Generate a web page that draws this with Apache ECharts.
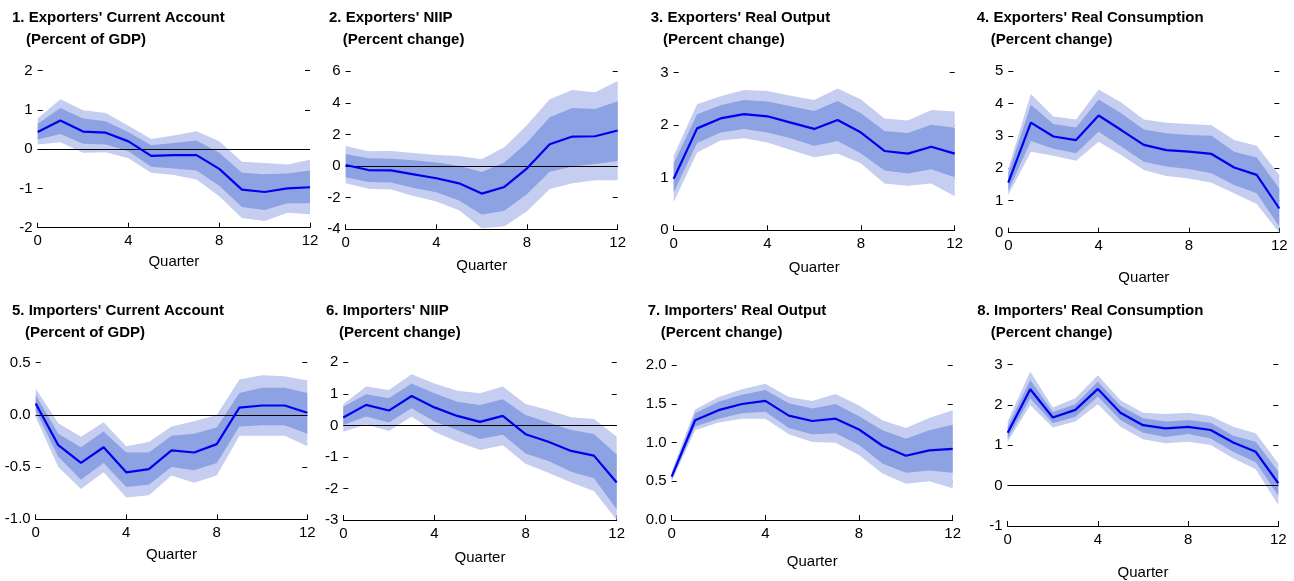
<!DOCTYPE html>
<html>
<head>
<meta charset="utf-8">
<script src="https://cdn.jsdelivr.net/npm/echarts@6/dist/echarts.min.js"></script>
<style>
  html, body { margin: 0; padding: 0; background: #fff; }
  #main { width: 1294px; height: 581px; }
</style>
</head>
<body>
<div id="main"></div>
<script>
// quarters after the shock
var quarters = ['0', '1', '2', '3', '4', '5', '6', '7', '8', '9', '10', '11', '12'];

// 1. Exporters' current account
var exCaMid   = [0.44, 0.73, 0.45, 0.42, 0.2, -0.17, -0.15, -0.15, -0.5, -1.03, -1.09, -1.0, -0.97];
var exCaInHi  = [0.65, 1.05, 0.78, 0.71, 0.43, 0.1, 0.16, 0.22, -0.09, -0.6, -0.64, -0.62, -0.54];
var exCaInLo  = [0.25, 0.39, 0.14, 0.12, -0.05, -0.45, -0.49, -0.54, -0.93, -1.47, -1.55, -1.38, -1.38];
var exCaOutHi = [0.78, 1.27, 0.99, 0.92, 0.6, 0.26, 0.35, 0.46, 0.2, -0.32, -0.35, -0.39, -0.27];
var exCaOutLo = [0.12, 0.18, -0.09, -0.08, -0.23, -0.6, -0.66, -0.77, -1.2, -1.75, -1.83, -1.62, -1.66];

// 2. Exporters' NIIP
var exNiMid   = [0.07, -0.25, -0.27, -0.52, -0.77, -1.09, -1.74, -1.32, -0.14, 1.38, 1.87, 1.89, 2.25];
var exNiInHi  = [0.77, 0.49, 0.47, 0.37, 0.22, 0.03, -0.37, 0.22, 1.5, 3.09, 3.68, 3.62, 4.1];
var exNiInLo  = [-0.7, -1.0, -1.04, -1.38, -1.65, -2.18, -3.07, -2.82, -1.76, -0.35, -0.03, 0.14, 0.33];
var exNiOutHi = [1.27, 0.94, 0.96, 0.83, 0.7, 0.64, 0.43, 1.19, 2.6, 4.23, 4.82, 4.67, 5.39];
var exNiOutLo = [-1.09, -1.43, -1.48, -1.9, -2.24, -2.79, -3.93, -3.8, -2.85, -1.45, -1.09, -0.9, -0.9];

// 3. Exporters' real output
var exOuMid   = [0.98, 1.94, 2.13, 2.21, 2.17, 2.05, 1.93, 2.1, 1.86, 1.51, 1.46, 1.59, 1.46];
var exOuInHi  = [1.27, 2.21, 2.38, 2.48, 2.45, 2.36, 2.27, 2.46, 2.23, 1.89, 1.85, 2.01, 1.95];
var exOuInLo  = [0.72, 1.66, 1.86, 1.93, 1.86, 1.75, 1.61, 1.7, 1.46, 1.14, 1.08, 1.16, 1.01];
var exOuOutHi = [1.42, 2.4, 2.55, 2.67, 2.65, 2.56, 2.48, 2.7, 2.49, 2.13, 2.09, 2.29, 2.26];
var exOuOutLo = [0.54, 1.48, 1.71, 1.75, 1.67, 1.53, 1.39, 1.46, 1.27, 0.89, 0.85, 0.89, 0.65];

// 4. Exporters' real consumption
var exCoMid   = [1.55, 3.41, 2.98, 2.87, 3.63, 3.18, 2.72, 2.56, 2.51, 2.44, 2.02, 1.79, 0.75];
var exCoInHi  = [1.84, 3.96, 3.37, 3.26, 4.13, 3.7, 3.2, 3.08, 3.03, 3.0, 2.51, 2.33, 1.37];
var exCoInLo  = [1.3, 2.84, 2.6, 2.46, 3.13, 2.67, 2.2, 2.05, 1.97, 1.84, 1.48, 1.22, 0.19];
var exCoOutHi = [1.99, 4.3, 3.6, 3.51, 4.44, 4.03, 3.51, 3.41, 3.37, 3.33, 2.87, 2.69, 1.79];
var exCoOutLo = [1.17, 2.51, 2.38, 2.23, 2.82, 2.41, 1.94, 1.76, 1.68, 1.55, 1.22, 0.89, 0.0];

// 5. Importers' current account
var imCaMid   = [0.11, -0.29, -0.46, -0.31, -0.55, -0.52, -0.34, -0.36, -0.28, 0.07, 0.09, 0.09, 0.02];
var imCaInHi  = [0.19, -0.18, -0.31, -0.16, -0.36, -0.36, -0.2, -0.18, -0.12, 0.21, 0.26, 0.26, 0.21];
var imCaInLo  = [0.04, -0.4, -0.62, -0.46, -0.69, -0.67, -0.5, -0.53, -0.46, -0.11, -0.1, -0.1, -0.18];
var imCaOutHi = [0.25, -0.08, -0.21, -0.07, -0.3, -0.26, -0.11, -0.06, 0.0, 0.34, 0.38, 0.37, 0.33];
var imCaOutLo = [-0.02, -0.5, -0.71, -0.55, -0.79, -0.77, -0.58, -0.65, -0.58, -0.2, -0.2, -0.2, -0.3];

// 6. Importers' NIIP
var imNiMid   = [0.25, 0.65, 0.47, 0.93, 0.57, 0.3, 0.11, 0.3, -0.28, -0.52, -0.81, -0.96, -1.81];
var imNiInHi  = [0.59, 0.99, 0.86, 1.33, 1.02, 0.75, 0.65, 0.83, 0.33, 0.09, -0.15, -0.27, -0.92];
var imNiInLo  = [0.01, 0.28, 0.09, 0.54, 0.12, -0.15, -0.43, -0.3, -0.89, -1.13, -1.47, -1.68, -2.66];
var imNiOutHi = [0.67, 1.23, 1.12, 1.62, 1.33, 1.1, 1.02, 1.23, 0.68, 0.49, 0.26, 0.2, -0.36];
var imNiOutLo = [-0.2, 0.03, -0.18, 0.28, -0.2, -0.52, -0.78, -0.63, -1.22, -1.5, -1.81, -2.08, -3.0];

// 7. Importers' real output
var imOuMid   = [0.56, 1.29, 1.42, 1.5, 1.54, 1.35, 1.28, 1.31, 1.17, 0.96, 0.83, 0.9, 0.92];
var imOuInHi  = [0.59, 1.38, 1.53, 1.62, 1.68, 1.51, 1.44, 1.5, 1.34, 1.16, 1.05, 1.16, 1.23];
var imOuInLo  = [0.52, 1.21, 1.31, 1.38, 1.4, 1.19, 1.11, 1.12, 0.97, 0.73, 0.61, 0.64, 0.61];
var imOuOutHi = [0.63, 1.43, 1.59, 1.69, 1.76, 1.59, 1.54, 1.63, 1.48, 1.29, 1.19, 1.32, 1.42];
var imOuOutLo = [0.5, 1.16, 1.26, 1.31, 1.31, 1.11, 1.01, 1.0, 0.84, 0.6, 0.47, 0.5, 0.41];

// 8. Importers' real consumption
var imCoMid   = [1.31, 2.39, 1.69, 1.88, 2.4, 1.81, 1.5, 1.42, 1.46, 1.38, 1.07, 0.84, 0.06];
var imCoInHi  = [1.46, 2.62, 1.83, 2.02, 2.58, 1.98, 1.67, 1.59, 1.63, 1.56, 1.24, 1.09, 0.35];
var imCoInLo  = [1.17, 2.17, 1.55, 1.71, 2.21, 1.63, 1.31, 1.21, 1.28, 1.17, 0.84, 0.58, -0.25];
var imCoOutHi = [1.59, 2.83, 1.94, 2.17, 2.74, 2.12, 1.81, 1.78, 1.81, 1.73, 1.46, 1.3, 0.55];
var imCoOutLo = [1.09, 2.0, 1.44, 1.59, 2.02, 1.46, 1.15, 1.05, 1.09, 1.01, 0.68, 0.41, -0.48];

var titles = [
  "1. Exporters' Current Account", "2. Exporters' NIIP", "3. Exporters' Real Output", "4. Exporters' Real Consumption",
  "5. Importers' Current Account", "6. Importers' NIIP", "7. Importers' Real Output", "8. Importers' Real Consumption"
];
var subtitles = [
  '(Percent of GDP)', '(Percent change)', '(Percent change)', '(Percent change)',
  '(Percent of GDP)', '(Percent change)', '(Percent change)', '(Percent change)'
];
// y axis ranges: [min, max, step]
var yRanges = [[-2, 2, 1], [-4, 6, 2], [0, 3, 1], [0, 5, 1], [-1, 0.5, 0.5], [-3, 2, 1], [0, 2, 0.5], [-1, 3, 1]];

var panelData = [
  [exCaMid, exCaInLo, exCaInHi, exCaOutLo, exCaOutHi],
  [exNiMid, exNiInLo, exNiInHi, exNiOutLo, exNiOutHi],
  [exOuMid, exOuInLo, exOuInHi, exOuOutLo, exOuOutHi],
  [exCoMid, exCoInLo, exCoInHi, exCoOutLo, exCoOutHi],
  [imCaMid, imCaInLo, imCaInHi, imCaOutLo, imCaOutHi],
  [imNiMid, imNiInLo, imNiInHi, imNiOutLo, imNiOutHi],
  [imOuMid, imOuInLo, imOuInHi, imOuOutLo, imOuOutHi],
  [imCoMid, imCoInLo, imCoInHi, imCoOutLo, imCoOutHi]
];

// layout, pixels: plot box, title spots, gap for "Quarter"
var layout = [
  { l: 37.7, r: 310, t: 70.7, b: 227.7, tx: 12, ty: 10, sx: 26, nameGap: 27 },
  { l: 345.7, r: 617.7, t: 71.3, b: 229.3, tx: 329, ty: 10, sx: 342.7, nameGap: 29 },
  { l: 673.7, r: 954.7, t: 72.7, b: 230.3, tx: 650.7, ty: 10, sx: 663, nameGap: 30 },
  { l: 1008.3, r: 1279.3, t: 71.3, b: 232.7, tx: 976.7, ty: 10, sx: 990.7, nameGap: 38 },
  { l: 35.7, r: 307.3, t: 362.7, b: 519.3, tx: 12, ty: 303, sx: 25, nameGap: 28 },
  { l: 343.3, r: 616.7, t: 362.3, b: 520, tx: 326, ty: 303, sx: 339, nameGap: 30 },
  { l: 671.7, r: 952.7, t: 365.3, b: 520, tx: 647.7, ty: 303, sx: 660.7, nameGap: 34 },
  { l: 1007.7, r: 1278.3, t: 364.7, b: 526, tx: 977.3, ty: 303, sx: 990.7, nameGap: 39 }
];

var FONT = "'Liberation Sans Narrow', 'Arial Narrow', 'Liberation Sans', Arial, sans-serif";
var lineBlue = '#0000ee';
var innerBlue = '#8da2e2';
var outerBlue = '#c5cdf0';

function diff(hi, lo) {
  return hi.map(function (v, i) { return +(v - lo[i]).toFixed(3); });
}

var grid = [], xAxis = [], yAxis = [], series = [], title = [];

layout.forEach(function (p, k) {
  var d = panelData[k];
  var yr = yRanges[k];
  var decimals = (yr[2] % 1 !== 0) ? 1 : 0;

  grid.push({ left: p.l, top: p.t, width: p.r - p.l, height: p.b - p.t });

  title.push({
    text: titles[k], left: p.tx, top: p.ty, padding: 0,
    textStyle: { fontFamily: FONT, fontSize: 15, fontWeight: 'bold', color: '#000' }
  });
  title.push({
    text: subtitles[k], left: p.sx, top: p.ty + 22, padding: 0,
    textStyle: { fontFamily: FONT, fontSize: 15, fontWeight: 'bold', color: '#000' }
  });

  xAxis.push({
    type: 'category', gridIndex: k, data: quarters, boundaryGap: false,
    name: 'Quarter', nameLocation: 'middle', nameGap: p.nameGap,
    nameTextStyle: { fontFamily: FONT, fontSize: 15, color: '#000' },
    axisLine: { onZero: false, lineStyle: { color: '#000', width: 1 } },
    axisTick: { inside: true, length: 5, interval: 3, lineStyle: { color: '#000' } },
    axisLabel: { fontFamily: FONT, fontSize: 15, color: '#000', margin: 6, interval: 3 },
    splitLine: { show: false }
  });

  var yCommon = {
    type: 'value', gridIndex: k, min: yr[0], max: yr[1], interval: yr[2],
    axisLine: { show: false },
    axisTick: { show: true, inside: true, length: 5, lineStyle: { color: '#000' } },
    splitLine: { show: false }
  };
  yAxis.push(Object.assign({}, yCommon, {
    position: 'left',
    axisLabel: {
      fontFamily: FONT, fontSize: 15, color: '#000', margin: 5,
      formatter: function (v) { return v.toFixed(decimals); }
    }
  }));
  yAxis.push(Object.assign({}, yCommon, {
    position: 'right',
    axisLabel: { show: false }
  }));

  var base = { type: 'line', xAxisIndex: k, yAxisIndex: 2 * k, symbol: 'none', silent: true,
               stackStrategy: 'all', animation: false, lineStyle: { opacity: 0 } };

  // outer (light) band, then inner (darker) band on top
  series.push(Object.assign({}, base, { stack: 'out' + k, data: d[3] }));
  series.push(Object.assign({}, base, { stack: 'out' + k, data: diff(d[4], d[3]),
    areaStyle: { color: outerBlue, opacity: 1 } }));
  series.push(Object.assign({}, base, { stack: 'in' + k, data: d[1] }));
  series.push(Object.assign({}, base, { stack: 'in' + k, data: diff(d[2], d[1]),
    areaStyle: { color: innerBlue, opacity: 1 } }));

  var mid = {
    type: 'line', xAxisIndex: k, yAxisIndex: 2 * k, symbol: 'none', silent: true, animation: false,
    data: d[0], lineStyle: { color: lineBlue, width: 2.2 }, z: 6
  };
  if (yr[0] < 0) {
    mid.markLine = {
      silent: true, symbol: 'none', label: { show: false }, animation: false,
      lineStyle: { color: '#000', width: 1, type: 'solid' },
      data: [{ yAxis: 0 }]
    };
  }
  series.push(mid);
});

var myChart = echarts.init(document.getElementById('main'));
myChart.setOption({
  backgroundColor: '#fff',
  animation: false,
  title: title,
  grid: grid,
  xAxis: xAxis,
  yAxis: yAxis,
  series: series
});
</script>
</body>
</html>
